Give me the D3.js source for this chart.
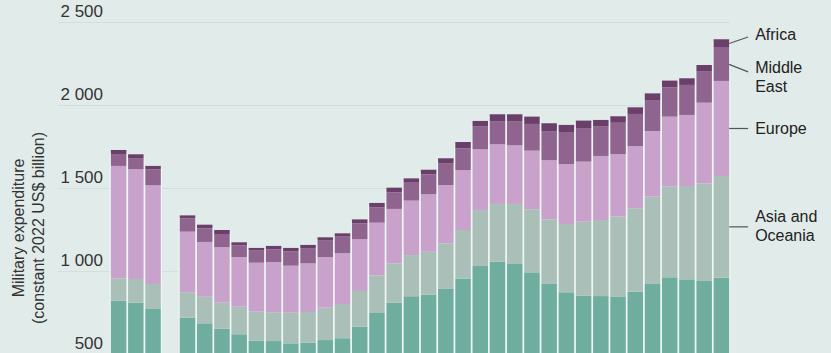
<!DOCTYPE html>
<html>
<head>
<meta charset="utf-8">
<script src="https://cdn.jsdelivr.net/npm/d3@7"></script>
<style>
html,body{margin:0;padding:0;background:#e1ebe9;}
svg{display:block;}
</style>
</head>
<body>
<svg id="chart" width="831" height="353"></svg>
<script>
const years = ["1988","1989","1990","1991","1992","1993","1994","1995","1996","1997","1998","1999","2000","2001","2002","2003","2004","2005","2006","2007","2008","2009","2010","2011","2012","2013","2014","2015","2016","2017","2018","2019","2020","2021","2022","2023"];
const americas = [824,812,778,null,722,688,656,622,583,581,567,571,587,598,668,750,812,851,860,895,957,1033,1059,1049,995,925,875,854,852,850,878,925,965,953,943,963];
const asiaOceania = [135,143,147,null,153,160,156,166,175,173,185,185,195,206,215,226,237,248,259,275,293,337,348,358,380,389,411,446,458,482,503,526,546,562,588,612];
const europe = [677,661,594,null,365,330,334,299,295,303,283,293,305,306,311,318,328,328,346,351,361,366,359,353,353,356,360,362,386,374,375,395,422,428,486,573];
const middleEast = [72,64,97,null,80,82,80,71,73,77,87,89,99,100,96,93,100,108,120,129,131,137,137,143,161,176,190,202,177,190,193,187,177,181,187,200];
const africa = [24,26,20,null,18,22,24,18,16,20,20,22,20,20,24,26,28,26,28,32,38,34,44,44,44,47,47,45,40,39,40,40,40,40,40,51];
const seriesNames = ["Americas","Asia and Oceania","Europe","Middle East","Africa"];
const seriesColors = ["#6fae9e","#a9bfb8","#c9a2cb","#8f6590","#6a3f6a"];
const yTicks = [500,1000,1500,2000,2500];
const yTitle = ["Military expenditure","(constant 2022 US$ billion)"];

const svg = d3.select("#chart");
const FONT = "'Liberation Sans', Arial, sans-serif";

const x = d3.scaleBand().domain(years).range([110, 730]).paddingInner(0.1).paddingOuter(0.05);
const y = d3.scaleLinear().domain([500, 2500]).range([354.5, 22.5]);

// gridlines
svg.append("g").selectAll("line").data(yTicks).join("line")
  .attr("x1", 58).attr("x2", 730)
  .attr("y1", d => y(d)).attr("y2", d => y(d))
  .attr("stroke", "#d3dfdc").attr("stroke-width", 1.2);

// tick labels via axis
const yAxis = d3.axisLeft(y).tickValues(yTicks).tickSize(0)
  .tickFormat(d => d3.format(",")(d).replace(",", " "));
const ax = svg.append("g").attr("transform", "translate(103,-11.5)").call(yAxis);
ax.select(".domain").remove();
ax.selectAll("text")
  .attr("x", 0).attr("dy", "0.35em")
  .attr("text-anchor", "end")
  .style("font-family", FONT)
  .style("font-size", "17px")
  .attr("fill", "#333");

// axis title
const t = svg.append("text")
  .attr("transform", "translate(28,228) rotate(-90)")
  .attr("text-anchor", "middle")
  .style("font-family", FONT)
  .style("font-size", "16px")
  .attr("fill", "#333");
t.append("tspan").attr("x", 0).attr("dy", "-0.28em").text(yTitle[0]);
t.append("tspan").attr("x", 0).attr("dy", "1.25em").text(yTitle[1]);

// stacked data
const rows = years.map((yr, i) => ({
  year: yr,
  "Americas": americas[i],
  "Asia and Oceania": asiaOceania[i],
  "Europe": europe[i],
  "Middle East": middleEast[i],
  "Africa": africa[i]
})).filter(r => r.Americas !== null);
const stack = d3.stack().keys(seriesNames)(rows);
const topLayer = stack[stack.length - 1];

// light separators between bars
svg.append("g").attr("fill", "#eef7f5")
  .selectAll("rect").data(topLayer).join("rect")
  .attr("x", d => x(d.data.year) - 1.2)
  .attr("width", x.bandwidth() + 2.4)
  .attr("y", d => y(d[1]) + 2)
  .attr("height", d => Math.max(0, y(500) - y(d[1])));

const gBars = svg.append("g");
stack.forEach((layer, li) => {
  gBars.append("g").attr("fill", seriesColors[li])
    .selectAll("rect").data(layer).join("rect")
    .attr("x", d => x(d.data.year))
    .attr("width", x.bandwidth())
    .attr("y", d => y(d[1]))
    .attr("height", d => Math.max(0, y(d[0]) - y(d[1])));
});

// right labels with leader lines (last year)
const last = stack.map(l => l[l.length - 1]);
const lx0 = x(years[years.length - 1]) + x.bandwidth();
const labelInfo = [
  {i: 0, lines: ["Americas"], lineDy: 0, textDy: 4},
  {i: 1, lines: ["Asia and","Oceania"], lineDy: 0, textDy: -1},
  {i: 2, lines: ["Europe"], lineDy: 0, textDy: 0},
  {i: 3, lines: ["Middle","East"], lineDy: 7.5, textDy: 13},
  {i: 4, lines: ["Africa"], lineDy: -6.5, textDy: -9.5}
];
const gLab = svg.append("g");
labelInfo.forEach(L => {
  const seg = last[L.i];
  const ym = y((seg[0] + seg[1]) / 2);
  gLab.append("line")
    .attr("x1", lx0).attr("y1", ym)
    .attr("x2", lx0 + 19).attr("y2", ym + L.lineDy)
    .attr("stroke", "#555").attr("stroke-width", 1.2);
  const n = L.lines.length;
  const txt = gLab.append("text")
    .attr("x", lx0 + 26)
    .attr("y", ym + L.textDy - (n - 1) * 9.5)
    .style("font-family", FONT)
    .style("font-size", "16px")
    .attr("fill", "#222");
  L.lines.forEach((s, k) => {
    txt.append("tspan").attr("x", lx0 + 26).attr("dy", k === 0 ? "0.35em" : "19px").text(s);
  });
});
</script>
</body>
</html>
